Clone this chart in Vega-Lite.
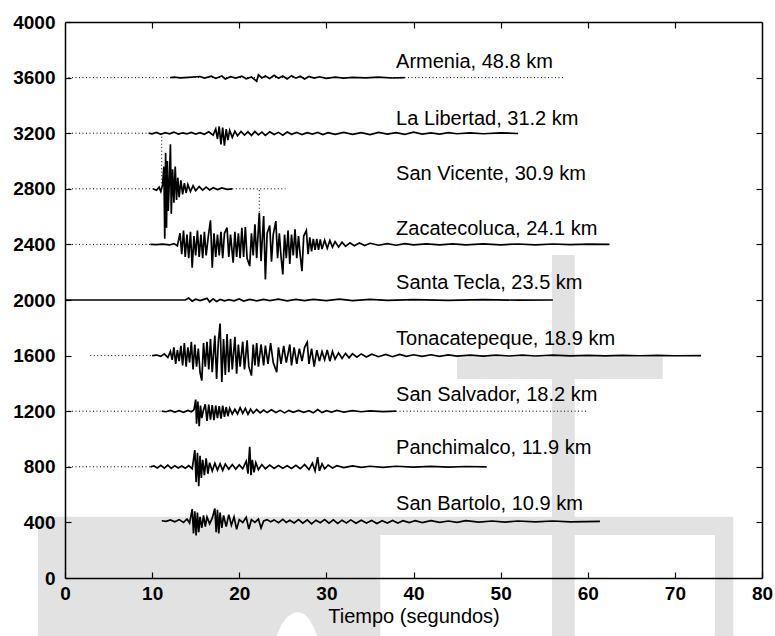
{
  "$schema": "https://vega.github.io/schema/vega-lite/v6.json",
  "width": 697,
  "height": 556,
  "autosize": {"type": "none"},
  "padding": {"left": 65, "top": 22, "right": 13, "bottom": 58},
  "background": "white",
  "config": {"view": {"stroke": null}},
  "datasets": {
    "wm": [
      {"x": -3.1, "x2": 76.7, "y": 309, "y2": 440},
      {"x": -3.1, "x2": 36.2, "y": -430, "y2": 309},
      {"x": 55.9, "x2": 58.5, "y": -430, "y2": 2323},
      {"x": 74.6, "x2": 76.7, "y": -430, "y2": 309},
      {"x": 45.0, "x2": 68.6, "y": 1431, "y2": 1589}
    ],
    "arch": [
      {"x": 24.2, "y": -430, "y0": -430},
      {"x": 24.9, "y": -330, "y0": -430},
      {"x": 25.6, "y": -275, "y0": -430},
      {"x": 26.3, "y": -250, "y0": -430},
      {"x": 26.8, "y": -246, "y0": -430},
      {"x": 27.4, "y": -258, "y0": -430},
      {"x": 28.0, "y": -295, "y0": -430},
      {"x": 28.6, "y": -360, "y0": -430},
      {"x": 29.0, "y": -430, "y0": -430}
    ],
    "dots": [
      {"x": 0, "x2": 57.4, "y": 3600, "y2": 3600},
      {"x": 0, "x2": 9.6, "y": 3200, "y2": 3200},
      {"x": 0, "x2": 10.1, "y": 2800, "y2": 2800},
      {"x": 19.2, "x2": 25.3, "y": 2800, "y2": 2800},
      {"x": 0, "x2": 9.8, "y": 2400, "y2": 2400},
      {"x": 2.9, "x2": 10, "y": 1600, "y2": 1600},
      {"x": 0, "x2": 11.1, "y": 1200, "y2": 1200},
      {"x": 38, "x2": 59.9, "y": 1200, "y2": 1200},
      {"x": 0, "x2": 9.8, "y": 800, "y2": 800},
      {"x": 11.1, "x2": 11.1, "y": 3200, "y2": 2820},
      {"x": 22.3, "x2": 22.3, "y": 2790, "y2": 2480}
    ],
    "labels": [
      {"x": 38, "y": 3712, "label": "Armenia, 48.8 km"},
      {"x": 38, "y": 3305, "label": "La Libertad, 31.2 km"},
      {"x": 38, "y": 2910, "label": "San Vicente, 30.9 km"},
      {"x": 38, "y": 2514, "label": "Zacatecoluca, 24.1 km"},
      {"x": 38, "y": 2119, "label": "Santa Tecla, 23.5 km"},
      {"x": 38, "y": 1723, "label": "Tonacatepeque, 18.9 km"},
      {"x": 38, "y": 1316, "label": "San Salvador, 18.2 km"},
      {"x": 38, "y": 933, "label": "Panchimalco, 11.9 km"},
      {"x": 38, "y": 532, "label": "San Bartolo, 10.9 km"}
    ],
    "traces": [
      {"s":"Armenia","t":12.1,"v":3600},{"s":"Armenia","t":12.6,"v":3604},{"s":"Armenia","t":13.2,"v":3598},{"s":"Armenia","t":14.2,"v":3602},{"s":"Armenia","t":15.5,"v":3608},{"s":"Armenia","t":16.0,"v":3596},{"s":"Armenia","t":16.8,"v":3610},{"s":"Armenia","t":17.3,"v":3594},{"s":"Armenia","t":18.0,"v":3612},{"s":"Armenia","t":18.4,"v":3590},{"s":"Armenia","t":19.0,"v":3606},{"s":"Armenia","t":19.6,"v":3596},{"s":"Armenia","t":20.3,"v":3610},{"s":"Armenia","t":20.8,"v":3592},{"s":"Armenia","t":21.4,"v":3604},{"s":"Armenia","t":22.0,"v":3574},{"s":"Armenia","t":22.2,"v":3620},{"s":"Armenia","t":22.6,"v":3598},{"s":"Armenia","t":23.0,"v":3612},{"s":"Armenia","t":23.5,"v":3594},{"s":"Armenia","t":24.0,"v":3616},{"s":"Armenia","t":24.5,"v":3596},{"s":"Armenia","t":25.0,"v":3612},{"s":"Armenia","t":25.5,"v":3590},{"s":"Armenia","t":26.0,"v":3614},{"s":"Armenia","t":26.5,"v":3596},{"s":"Armenia","t":27.0,"v":3610},{"s":"Armenia","t":27.5,"v":3590},{"s":"Armenia","t":28.0,"v":3608},{"s":"Armenia","t":28.6,"v":3596},{"s":"Armenia","t":29.2,"v":3606},{"s":"Armenia","t":30.0,"v":3594},{"s":"Armenia","t":31.0,"v":3604},{"s":"Armenia","t":32.0,"v":3596},{"s":"Armenia","t":33.0,"v":3602},{"s":"Armenia","t":34.5,"v":3598},{"s":"Armenia","t":36.0,"v":3604},{"s":"Armenia","t":37.5,"v":3597},{"s":"Armenia","t":39.0,"v":3600},
      {"s":"LaLibertad","t":9.6,"v":3200},{"s":"LaLibertad","t":10.0,"v":3196},{"s":"LaLibertad","t":10.5,"v":3206},{"s":"LaLibertad","t":11.0,"v":3192},{"s":"LaLibertad","t":11.5,"v":3204},{"s":"LaLibertad","t":12.0,"v":3196},{"s":"LaLibertad","t":12.5,"v":3208},{"s":"LaLibertad","t":13.0,"v":3194},{"s":"LaLibertad","t":13.5,"v":3202},{"s":"LaLibertad","t":14.0,"v":3196},{"s":"LaLibertad","t":14.5,"v":3206},{"s":"LaLibertad","t":15.0,"v":3194},{"s":"LaLibertad","t":15.5,"v":3204},{"s":"LaLibertad","t":16.0,"v":3192},{"s":"LaLibertad","t":16.5,"v":3210},{"s":"LaLibertad","t":17.0,"v":3186},{"s":"LaLibertad","t":17.3,"v":3230},{"s":"LaLibertad","t":17.5,"v":3160},{"s":"LaLibertad","t":17.7,"v":3250},{"s":"LaLibertad","t":17.9,"v":3120},{"s":"LaLibertad","t":18.1,"v":3240},{"s":"LaLibertad","t":18.3,"v":3110},{"s":"LaLibertad","t":18.5,"v":3230},{"s":"LaLibertad","t":18.7,"v":3150},{"s":"LaLibertad","t":18.9,"v":3220},{"s":"LaLibertad","t":19.2,"v":3170},{"s":"LaLibertad","t":19.5,"v":3214},{"s":"LaLibertad","t":19.8,"v":3182},{"s":"LaLibertad","t":20.2,"v":3212},{"s":"LaLibertad","t":20.6,"v":3186},{"s":"LaLibertad","t":21.0,"v":3210},{"s":"LaLibertad","t":21.4,"v":3184},{"s":"LaLibertad","t":21.8,"v":3212},{"s":"LaLibertad","t":22.2,"v":3188},{"s":"LaLibertad","t":22.6,"v":3208},{"s":"LaLibertad","t":23.0,"v":3184},{"s":"LaLibertad","t":23.5,"v":3210},{"s":"LaLibertad","t":24.0,"v":3190},{"s":"LaLibertad","t":24.5,"v":3206},{"s":"LaLibertad","t":25.0,"v":3186},{"s":"LaLibertad","t":25.5,"v":3208},{"s":"LaLibertad","t":26.0,"v":3192},{"s":"LaLibertad","t":26.6,"v":3206},{"s":"LaLibertad","t":27.2,"v":3190},{"s":"LaLibertad","t":27.8,"v":3204},{"s":"LaLibertad","t":28.4,"v":3194},{"s":"LaLibertad","t":29.0,"v":3206},{"s":"LaLibertad","t":29.6,"v":3190},{"s":"LaLibertad","t":30.2,"v":3204},{"s":"LaLibertad","t":31.0,"v":3192},{"s":"LaLibertad","t":32.0,"v":3206},{"s":"LaLibertad","t":33.0,"v":3192},{"s":"LaLibertad","t":34.0,"v":3204},{"s":"LaLibertad","t":35.0,"v":3190},{"s":"LaLibertad","t":36.0,"v":3206},{"s":"LaLibertad","t":37.0,"v":3194},{"s":"LaLibertad","t":38.0,"v":3204},{"s":"LaLibertad","t":39.0,"v":3192},{"s":"LaLibertad","t":40.0,"v":3208},{"s":"LaLibertad","t":41.0,"v":3194},{"s":"LaLibertad","t":42.0,"v":3202},{"s":"LaLibertad","t":43.0,"v":3194},{"s":"LaLibertad","t":44.0,"v":3204},{"s":"LaLibertad","t":45.0,"v":3196},{"s":"LaLibertad","t":46.5,"v":3202},{"s":"LaLibertad","t":48.0,"v":3196},{"s":"LaLibertad","t":50.0,"v":3202},{"s":"LaLibertad","t":52.0,"v":3198},
      {"s":"SanVicente","t":10.1,"v":2800},{"s":"SanVicente","t":10.5,"v":2790},{"s":"SanVicente","t":10.8,"v":2812},{"s":"SanVicente","t":11.0,"v":2780},{"s":"SanVicente","t":11.2,"v":2830},{"s":"SanVicente","t":11.35,"v":2960},{"s":"SanVicente","t":11.45,"v":2440},{"s":"SanVicente","t":11.55,"v":3060},{"s":"SanVicente","t":11.65,"v":2520},{"s":"SanVicente","t":11.75,"v":3000},{"s":"SanVicente","t":11.85,"v":2640},{"s":"SanVicente","t":12.0,"v":2900},{"s":"SanVicente","t":12.1,"v":3120},{"s":"SanVicente","t":12.2,"v":2620},{"s":"SanVicente","t":12.35,"v":2940},{"s":"SanVicente","t":12.5,"v":2700},{"s":"SanVicente","t":12.65,"v":2960},{"s":"SanVicente","t":12.8,"v":2720},{"s":"SanVicente","t":12.95,"v":2880},{"s":"SanVicente","t":13.1,"v":2740},{"s":"SanVicente","t":13.3,"v":2860},{"s":"SanVicente","t":13.5,"v":2760},{"s":"SanVicente","t":13.7,"v":2840},{"s":"SanVicente","t":13.9,"v":2770},{"s":"SanVicente","t":14.1,"v":2830},{"s":"SanVicente","t":14.4,"v":2780},{"s":"SanVicente","t":14.7,"v":2822},{"s":"SanVicente","t":15.0,"v":2786},{"s":"SanVicente","t":15.4,"v":2816},{"s":"SanVicente","t":15.8,"v":2790},{"s":"SanVicente","t":16.2,"v":2812},{"s":"SanVicente","t":16.6,"v":2792},{"s":"SanVicente","t":17.0,"v":2808},{"s":"SanVicente","t":17.5,"v":2794},{"s":"SanVicente","t":18.0,"v":2806},{"s":"SanVicente","t":18.6,"v":2796},{"s":"SanVicente","t":19.2,"v":2800},
      {"s":"Zacatecoluca","t":9.8,"v":2400},{"s":"Zacatecoluca","t":10.5,"v":2398},{"s":"Zacatecoluca","t":11.2,"v":2402},{"s":"Zacatecoluca","t":12.0,"v":2396},{"s":"Zacatecoluca","t":12.5,"v":2406},{"s":"Zacatecoluca","t":12.9,"v":2390},{"s":"Zacatecoluca","t":13.2,"v":2480},{"s":"Zacatecoluca","t":13.4,"v":2330},{"s":"Zacatecoluca","t":13.6,"v":2500},{"s":"Zacatecoluca","t":13.8,"v":2310},{"s":"Zacatecoluca","t":14.0,"v":2470},{"s":"Zacatecoluca","t":14.2,"v":2300},{"s":"Zacatecoluca","t":14.4,"v":2490},{"s":"Zacatecoluca","t":14.6,"v":2232},{"s":"Zacatecoluca","t":14.8,"v":2460},{"s":"Zacatecoluca","t":15.0,"v":2320},{"s":"Zacatecoluca","t":15.2,"v":2500},{"s":"Zacatecoluca","t":15.4,"v":2310},{"s":"Zacatecoluca","t":15.6,"v":2470},{"s":"Zacatecoluca","t":15.8,"v":2300},{"s":"Zacatecoluca","t":16.0,"v":2490},{"s":"Zacatecoluca","t":16.2,"v":2320},{"s":"Zacatecoluca","t":16.45,"v":2460},{"s":"Zacatecoluca","t":16.7,"v":2573},{"s":"Zacatecoluca","t":16.9,"v":2232},{"s":"Zacatecoluca","t":17.1,"v":2480},{"s":"Zacatecoluca","t":17.3,"v":2310},{"s":"Zacatecoluca","t":17.5,"v":2470},{"s":"Zacatecoluca","t":17.7,"v":2320},{"s":"Zacatecoluca","t":17.9,"v":2490},{"s":"Zacatecoluca","t":18.1,"v":2300},{"s":"Zacatecoluca","t":18.3,"v":2480},{"s":"Zacatecoluca","t":18.6,"v":2520},{"s":"Zacatecoluca","t":18.8,"v":2310},{"s":"Zacatecoluca","t":19.0,"v":2470},{"s":"Zacatecoluca","t":19.3,"v":2268},{"s":"Zacatecoluca","t":19.5,"v":2490},{"s":"Zacatecoluca","t":19.7,"v":2310},{"s":"Zacatecoluca","t":19.9,"v":2480},{"s":"Zacatecoluca","t":20.1,"v":2300},{"s":"Zacatecoluca","t":20.3,"v":2520},{"s":"Zacatecoluca","t":20.5,"v":2310},{"s":"Zacatecoluca","t":20.7,"v":2525},{"s":"Zacatecoluca","t":20.9,"v":2300},{"s":"Zacatecoluca","t":21.2,"v":2244},{"s":"Zacatecoluca","t":21.4,"v":2480},{"s":"Zacatecoluca","t":21.6,"v":2320},{"s":"Zacatecoluca","t":21.8,"v":2544},{"s":"Zacatecoluca","t":22.0,"v":2300},{"s":"Zacatecoluca","t":22.3,"v":2628},{"s":"Zacatecoluca","t":22.5,"v":2280},{"s":"Zacatecoluca","t":22.8,"v":2604},{"s":"Zacatecoluca","t":23.0,"v":2148},{"s":"Zacatecoluca","t":23.2,"v":2480},{"s":"Zacatecoluca","t":23.5,"v":2535},{"s":"Zacatecoluca","t":23.7,"v":2275},{"s":"Zacatecoluca","t":23.9,"v":2470},{"s":"Zacatecoluca","t":24.2,"v":2568},{"s":"Zacatecoluca","t":24.4,"v":2300},{"s":"Zacatecoluca","t":24.6,"v":2480},{"s":"Zacatecoluca","t":24.8,"v":2310},{"s":"Zacatecoluca","t":25.0,"v":2184},{"s":"Zacatecoluca","t":25.2,"v":2470},{"s":"Zacatecoluca","t":25.4,"v":2300},{"s":"Zacatecoluca","t":25.6,"v":2500},{"s":"Zacatecoluca","t":25.8,"v":2260},{"s":"Zacatecoluca","t":26.0,"v":2470},{"s":"Zacatecoluca","t":26.2,"v":2320},{"s":"Zacatecoluca","t":26.4,"v":2508},{"s":"Zacatecoluca","t":26.6,"v":2300},{"s":"Zacatecoluca","t":26.8,"v":2460},{"s":"Zacatecoluca","t":27.0,"v":2320},{"s":"Zacatecoluca","t":27.2,"v":2208},{"s":"Zacatecoluca","t":27.4,"v":2460},{"s":"Zacatecoluca","t":27.7,"v":2500},{"s":"Zacatecoluca","t":27.9,"v":2330},{"s":"Zacatecoluca","t":28.1,"v":2450},{"s":"Zacatecoluca","t":28.3,"v":2350},{"s":"Zacatecoluca","t":28.5,"v":2440},{"s":"Zacatecoluca","t":28.7,"v":2360},{"s":"Zacatecoluca","t":28.9,"v":2440},{"s":"Zacatecoluca","t":29.1,"v":2360},{"s":"Zacatecoluca","t":29.3,"v":2436},{"s":"Zacatecoluca","t":29.5,"v":2366},{"s":"Zacatecoluca","t":29.8,"v":2430},{"s":"Zacatecoluca","t":30.1,"v":2372},{"s":"Zacatecoluca","t":30.4,"v":2428},{"s":"Zacatecoluca","t":30.7,"v":2380},{"s":"Zacatecoluca","t":31.0,"v":2420},{"s":"Zacatecoluca","t":31.4,"v":2382},{"s":"Zacatecoluca","t":31.8,"v":2416},{"s":"Zacatecoluca","t":32.2,"v":2386},{"s":"Zacatecoluca","t":32.7,"v":2412},{"s":"Zacatecoluca","t":33.2,"v":2390},{"s":"Zacatecoluca","t":33.8,"v":2410},{"s":"Zacatecoluca","t":34.4,"v":2392},{"s":"Zacatecoluca","t":35.0,"v":2408},{"s":"Zacatecoluca","t":36.0,"v":2394},{"s":"Zacatecoluca","t":37.0,"v":2406},{"s":"Zacatecoluca","t":38.0,"v":2394},{"s":"Zacatecoluca","t":39.0,"v":2406},{"s":"Zacatecoluca","t":40.0,"v":2396},{"s":"Zacatecoluca","t":41.5,"v":2404},{"s":"Zacatecoluca","t":43.0,"v":2396},{"s":"Zacatecoluca","t":44.5,"v":2404},{"s":"Zacatecoluca","t":46.0,"v":2396},{"s":"Zacatecoluca","t":48.0,"v":2404},{"s":"Zacatecoluca","t":50.0,"v":2397},{"s":"Zacatecoluca","t":52.0,"v":2403},{"s":"Zacatecoluca","t":54.0,"v":2397},{"s":"Zacatecoluca","t":56.0,"v":2403},{"s":"Zacatecoluca","t":58.0,"v":2398},{"s":"Zacatecoluca","t":60.0,"v":2402},{"s":"Zacatecoluca","t":62.5,"v":2400},
      {"s":"SantaTecla","t":0,"v":2000},{"s":"SantaTecla","t":13.8,"v":2000},{"s":"SantaTecla","t":14.2,"v":2014},{"s":"SantaTecla","t":14.6,"v":1992},{"s":"SantaTecla","t":15.0,"v":2006},{"s":"SantaTecla","t":15.5,"v":1996},{"s":"SantaTecla","t":16.3,"v":2012},{"s":"SantaTecla","t":16.6,"v":1986},{"s":"SantaTecla","t":17.0,"v":2008},{"s":"SantaTecla","t":17.4,"v":1990},{"s":"SantaTecla","t":17.8,"v":2004},{"s":"SantaTecla","t":18.3,"v":1994},{"s":"SantaTecla","t":18.8,"v":2002},{"s":"SantaTecla","t":19.4,"v":1994},{"s":"SantaTecla","t":20.0,"v":2008},{"s":"SantaTecla","t":20.5,"v":1992},{"s":"SantaTecla","t":21.2,"v":2004},{"s":"SantaTecla","t":22.0,"v":1994},{"s":"SantaTecla","t":22.8,"v":2004},{"s":"SantaTecla","t":23.5,"v":1996},{"s":"SantaTecla","t":24.5,"v":2006},{"s":"SantaTecla","t":25.5,"v":1994},{"s":"SantaTecla","t":26.5,"v":2004},{"s":"SantaTecla","t":27.5,"v":1996},{"s":"SantaTecla","t":28.5,"v":2004},{"s":"SantaTecla","t":30.0,"v":1996},{"s":"SantaTecla","t":31.5,"v":2006},{"s":"SantaTecla","t":33.0,"v":1996},{"s":"SantaTecla","t":35.0,"v":2004},{"s":"SantaTecla","t":37.0,"v":1998},{"s":"SantaTecla","t":40.0,"v":2002},{"s":"SantaTecla","t":44.0,"v":1998},{"s":"SantaTecla","t":48.0,"v":2002},{"s":"SantaTecla","t":52.0,"v":1999},{"s":"SantaTecla","t":56.0,"v":2000},
      {"s":"Tonacatepeque","t":10.0,"v":1600},{"s":"Tonacatepeque","t":10.5,"v":1604},{"s":"Tonacatepeque","t":11.0,"v":1594},{"s":"Tonacatepeque","t":11.4,"v":1612},{"s":"Tonacatepeque","t":11.8,"v":1586},{"s":"Tonacatepeque","t":12.1,"v":1630},{"s":"Tonacatepeque","t":12.3,"v":1570},{"s":"Tonacatepeque","t":12.5,"v":1660},{"s":"Tonacatepeque","t":12.7,"v":1540},{"s":"Tonacatepeque","t":12.9,"v":1640},{"s":"Tonacatepeque","t":13.1,"v":1560},{"s":"Tonacatepeque","t":13.3,"v":1670},{"s":"Tonacatepeque","t":13.5,"v":1530},{"s":"Tonacatepeque","t":13.7,"v":1690},{"s":"Tonacatepeque","t":13.9,"v":1520},{"s":"Tonacatepeque","t":14.1,"v":1660},{"s":"Tonacatepeque","t":14.3,"v":1550},{"s":"Tonacatepeque","t":14.5,"v":1700},{"s":"Tonacatepeque","t":14.7,"v":1500},{"s":"Tonacatepeque","t":14.9,"v":1680},{"s":"Tonacatepeque","t":15.1,"v":1520},{"s":"Tonacatepeque","t":15.3,"v":1650},{"s":"Tonacatepeque","t":15.5,"v":1480},{"s":"Tonacatepeque","t":15.7,"v":1420},{"s":"Tonacatepeque","t":15.9,"v":1690},{"s":"Tonacatepeque","t":16.1,"v":1520},{"s":"Tonacatepeque","t":16.3,"v":1700},{"s":"Tonacatepeque","t":16.5,"v":1500},{"s":"Tonacatepeque","t":16.7,"v":1720},{"s":"Tonacatepeque","t":16.9,"v":1480},{"s":"Tonacatepeque","t":17.2,"v":1744},{"s":"Tonacatepeque","t":17.4,"v":1432},{"s":"Tonacatepeque","t":17.6,"v":1700},{"s":"Tonacatepeque","t":17.8,"v":1830},{"s":"Tonacatepeque","t":18.0,"v":1410},{"s":"Tonacatepeque","t":18.2,"v":1720},{"s":"Tonacatepeque","t":18.4,"v":1460},{"s":"Tonacatepeque","t":18.6,"v":1756},{"s":"Tonacatepeque","t":18.8,"v":1480},{"s":"Tonacatepeque","t":19.0,"v":1720},{"s":"Tonacatepeque","t":19.2,"v":1500},{"s":"Tonacatepeque","t":19.5,"v":1736},{"s":"Tonacatepeque","t":19.7,"v":1470},{"s":"Tonacatepeque","t":19.9,"v":1680},{"s":"Tonacatepeque","t":20.1,"v":1520},{"s":"Tonacatepeque","t":20.4,"v":1700},{"s":"Tonacatepeque","t":20.6,"v":1500},{"s":"Tonacatepeque","t":20.9,"v":1710},{"s":"Tonacatepeque","t":21.1,"v":1520},{"s":"Tonacatepeque","t":21.4,"v":1456},{"s":"Tonacatepeque","t":21.6,"v":1680},{"s":"Tonacatepeque","t":21.8,"v":1530},{"s":"Tonacatepeque","t":22.0,"v":1690},{"s":"Tonacatepeque","t":22.2,"v":1520},{"s":"Tonacatepeque","t":22.5,"v":1680},{"s":"Tonacatepeque","t":22.8,"v":1530},{"s":"Tonacatepeque","t":23.0,"v":1672},{"s":"Tonacatepeque","t":23.3,"v":1540},{"s":"Tonacatepeque","t":23.6,"v":1690},{"s":"Tonacatepeque","t":23.9,"v":1550},{"s":"Tonacatepeque","t":24.3,"v":1480},{"s":"Tonacatepeque","t":24.5,"v":1660},{"s":"Tonacatepeque","t":24.8,"v":1540},{"s":"Tonacatepeque","t":25.1,"v":1670},{"s":"Tonacatepeque","t":25.4,"v":1550},{"s":"Tonacatepeque","t":25.8,"v":1680},{"s":"Tonacatepeque","t":26.0,"v":1530},{"s":"Tonacatepeque","t":26.3,"v":1660},{"s":"Tonacatepeque","t":26.6,"v":1540},{"s":"Tonacatepeque","t":26.9,"v":1650},{"s":"Tonacatepeque","t":27.2,"v":1560},{"s":"Tonacatepeque","t":27.5,"v":1660},{"s":"Tonacatepeque","t":27.8,"v":1696},{"s":"Tonacatepeque","t":28.0,"v":1540},{"s":"Tonacatepeque","t":28.3,"v":1650},{"s":"Tonacatepeque","t":28.6,"v":1520},{"s":"Tonacatepeque","t":28.9,"v":1640},{"s":"Tonacatepeque","t":29.2,"v":1560},{"s":"Tonacatepeque","t":29.5,"v":1630},{"s":"Tonacatepeque","t":29.8,"v":1570},{"s":"Tonacatepeque","t":30.1,"v":1640},{"s":"Tonacatepeque","t":30.4,"v":1560},{"s":"Tonacatepeque","t":30.7,"v":1630},{"s":"Tonacatepeque","t":31.0,"v":1574},{"s":"Tonacatepeque","t":31.4,"v":1620},{"s":"Tonacatepeque","t":31.8,"v":1580},{"s":"Tonacatepeque","t":32.2,"v":1616},{"s":"Tonacatepeque","t":32.6,"v":1584},{"s":"Tonacatepeque","t":33.0,"v":1614},{"s":"Tonacatepeque","t":33.5,"v":1588},{"s":"Tonacatepeque","t":34.0,"v":1612},{"s":"Tonacatepeque","t":34.6,"v":1590},{"s":"Tonacatepeque","t":35.2,"v":1610},{"s":"Tonacatepeque","t":36.0,"v":1592},{"s":"Tonacatepeque","t":36.8,"v":1608},{"s":"Tonacatepeque","t":37.6,"v":1592},{"s":"Tonacatepeque","t":38.4,"v":1608},{"s":"Tonacatepeque","t":39.2,"v":1594},{"s":"Tonacatepeque","t":40.0,"v":1606},{"s":"Tonacatepeque","t":41.0,"v":1594},{"s":"Tonacatepeque","t":42.0,"v":1606},{"s":"Tonacatepeque","t":43.0,"v":1595},{"s":"Tonacatepeque","t":44.0,"v":1605},{"s":"Tonacatepeque","t":45.0,"v":1596},{"s":"Tonacatepeque","t":46.5,"v":1604},{"s":"Tonacatepeque","t":48.0,"v":1596},{"s":"Tonacatepeque","t":49.5,"v":1604},{"s":"Tonacatepeque","t":51.0,"v":1597},{"s":"Tonacatepeque","t":52.5,"v":1603},{"s":"Tonacatepeque","t":54.0,"v":1597},{"s":"Tonacatepeque","t":56.0,"v":1603},{"s":"Tonacatepeque","t":58.0,"v":1598},{"s":"Tonacatepeque","t":60.0,"v":1602},{"s":"Tonacatepeque","t":62.0,"v":1598},{"s":"Tonacatepeque","t":64.0,"v":1602},{"s":"Tonacatepeque","t":66.0,"v":1599},{"s":"Tonacatepeque","t":68.0,"v":1601},{"s":"Tonacatepeque","t":70.0,"v":1599},{"s":"Tonacatepeque","t":73.0,"v":1600},
      {"s":"SanSalvador","t":11.1,"v":1200},{"s":"SanSalvador","t":11.6,"v":1196},{"s":"SanSalvador","t":12.1,"v":1206},{"s":"SanSalvador","t":12.6,"v":1194},{"s":"SanSalvador","t":13.1,"v":1204},{"s":"SanSalvador","t":13.6,"v":1192},{"s":"SanSalvador","t":14.1,"v":1206},{"s":"SanSalvador","t":14.5,"v":1196},{"s":"SanSalvador","t":14.8,"v":1210},{"s":"SanSalvador","t":15.0,"v":1284},{"s":"SanSalvador","t":15.1,"v":1110},{"s":"SanSalvador","t":15.25,"v":1270},{"s":"SanSalvador","t":15.4,"v":1092},{"s":"SanSalvador","t":15.55,"v":1240},{"s":"SanSalvador","t":15.7,"v":1150},{"s":"SanSalvador","t":15.9,"v":1210},{"s":"SanSalvador","t":16.1,"v":1250},{"s":"SanSalvador","t":16.3,"v":1130},{"s":"SanSalvador","t":16.5,"v":1248},{"s":"SanSalvador","t":16.7,"v":1140},{"s":"SanSalvador","t":16.9,"v":1244},{"s":"SanSalvador","t":17.1,"v":1136},{"s":"SanSalvador","t":17.3,"v":1240},{"s":"SanSalvador","t":17.5,"v":1150},{"s":"SanSalvador","t":17.7,"v":1236},{"s":"SanSalvador","t":17.9,"v":1146},{"s":"SanSalvador","t":18.1,"v":1240},{"s":"SanSalvador","t":18.3,"v":1160},{"s":"SanSalvador","t":18.5,"v":1230},{"s":"SanSalvador","t":18.7,"v":1164},{"s":"SanSalvador","t":18.9,"v":1222},{"s":"SanSalvador","t":19.2,"v":1180},{"s":"SanSalvador","t":19.5,"v":1214},{"s":"SanSalvador","t":19.8,"v":1180},{"s":"SanSalvador","t":20.1,"v":1226},{"s":"SanSalvador","t":20.4,"v":1184},{"s":"SanSalvador","t":20.7,"v":1220},{"s":"SanSalvador","t":21.0,"v":1178},{"s":"SanSalvador","t":21.3,"v":1214},{"s":"SanSalvador","t":21.6,"v":1186},{"s":"SanSalvador","t":22.0,"v":1212},{"s":"SanSalvador","t":22.4,"v":1188},{"s":"SanSalvador","t":22.8,"v":1208},{"s":"SanSalvador","t":23.2,"v":1190},{"s":"SanSalvador","t":23.7,"v":1210},{"s":"SanSalvador","t":24.2,"v":1190},{"s":"SanSalvador","t":24.7,"v":1206},{"s":"SanSalvador","t":25.2,"v":1188},{"s":"SanSalvador","t":25.7,"v":1206},{"s":"SanSalvador","t":26.2,"v":1192},{"s":"SanSalvador","t":26.8,"v":1206},{"s":"SanSalvador","t":27.4,"v":1192},{"s":"SanSalvador","t":28.0,"v":1204},{"s":"SanSalvador","t":28.5,"v":1188},{"s":"SanSalvador","t":29.0,"v":1212},{"s":"SanSalvador","t":29.5,"v":1190},{"s":"SanSalvador","t":30.0,"v":1204},{"s":"SanSalvador","t":30.6,"v":1194},{"s":"SanSalvador","t":31.2,"v":1206},{"s":"SanSalvador","t":32.0,"v":1194},{"s":"SanSalvador","t":33.0,"v":1204},{"s":"SanSalvador","t":34.0,"v":1196},{"s":"SanSalvador","t":35.0,"v":1202},{"s":"SanSalvador","t":36.5,"v":1197},{"s":"SanSalvador","t":38.0,"v":1200},
      {"s":"Panchimalco","t":9.8,"v":800},{"s":"Panchimalco","t":10.2,"v":806},{"s":"Panchimalco","t":10.6,"v":792},{"s":"Panchimalco","t":11.0,"v":810},{"s":"Panchimalco","t":11.4,"v":790},{"s":"Panchimalco","t":11.8,"v":812},{"s":"Panchimalco","t":12.2,"v":788},{"s":"Panchimalco","t":12.6,"v":808},{"s":"Panchimalco","t":13.0,"v":792},{"s":"Panchimalco","t":13.4,"v":806},{"s":"Panchimalco","t":13.8,"v":790},{"s":"Panchimalco","t":14.2,"v":808},{"s":"Panchimalco","t":14.6,"v":786},{"s":"Panchimalco","t":14.9,"v":920},{"s":"Panchimalco","t":15.05,"v":690},{"s":"Panchimalco","t":15.2,"v":900},{"s":"Panchimalco","t":15.35,"v":660},{"s":"Panchimalco","t":15.5,"v":880},{"s":"Panchimalco","t":15.65,"v":720},{"s":"Panchimalco","t":15.8,"v":850},{"s":"Panchimalco","t":16.0,"v":740},{"s":"Panchimalco","t":16.2,"v":860},{"s":"Panchimalco","t":16.4,"v":750},{"s":"Panchimalco","t":16.6,"v":830},{"s":"Panchimalco","t":16.9,"v":770},{"s":"Panchimalco","t":17.2,"v":826},{"s":"Panchimalco","t":17.5,"v":776},{"s":"Panchimalco","t":17.8,"v":822},{"s":"Panchimalco","t":18.1,"v":774},{"s":"Panchimalco","t":18.4,"v":820},{"s":"Panchimalco","t":18.8,"v":782},{"s":"Panchimalco","t":19.2,"v":816},{"s":"Panchimalco","t":19.6,"v":784},{"s":"Panchimalco","t":20.0,"v":814},{"s":"Panchimalco","t":20.4,"v":786},{"s":"Panchimalco","t":20.8,"v":840},{"s":"Panchimalco","t":21.0,"v":750},{"s":"Panchimalco","t":21.2,"v":944},{"s":"Panchimalco","t":21.35,"v":740},{"s":"Panchimalco","t":21.5,"v":850},{"s":"Panchimalco","t":21.7,"v":760},{"s":"Panchimalco","t":21.9,"v":830},{"s":"Panchimalco","t":22.2,"v":780},{"s":"Panchimalco","t":22.6,"v":816},{"s":"Panchimalco","t":23.0,"v":786},{"s":"Panchimalco","t":23.5,"v":812},{"s":"Panchimalco","t":24.0,"v":788},{"s":"Panchimalco","t":24.5,"v":810},{"s":"Panchimalco","t":25.0,"v":790},{"s":"Panchimalco","t":25.5,"v":808},{"s":"Panchimalco","t":26.0,"v":788},{"s":"Panchimalco","t":26.5,"v":810},{"s":"Panchimalco","t":27.0,"v":786},{"s":"Panchimalco","t":27.5,"v":816},{"s":"Panchimalco","t":28.0,"v":780},{"s":"Panchimalco","t":28.4,"v":826},{"s":"Panchimalco","t":28.7,"v":770},{"s":"Panchimalco","t":29.0,"v":870},{"s":"Panchimalco","t":29.2,"v":770},{"s":"Panchimalco","t":29.5,"v":822},{"s":"Panchimalco","t":29.8,"v":786},{"s":"Panchimalco","t":30.2,"v":812},{"s":"Panchimalco","t":30.7,"v":792},{"s":"Panchimalco","t":31.2,"v":808},{"s":"Panchimalco","t":32.0,"v":794},{"s":"Panchimalco","t":33.0,"v":806},{"s":"Panchimalco","t":34.0,"v":796},{"s":"Panchimalco","t":35.0,"v":804},{"s":"Panchimalco","t":36.5,"v":796},{"s":"Panchimalco","t":38.0,"v":804},{"s":"Panchimalco","t":40.0,"v":797},{"s":"Panchimalco","t":42.0,"v":803},{"s":"Panchimalco","t":44.0,"v":798},{"s":"Panchimalco","t":46.0,"v":802},{"s":"Panchimalco","t":48.4,"v":800},
      {"s":"SanBartolo","t":11.1,"v":412},{"s":"SanBartolo","t":11.6,"v":408},{"s":"SanBartolo","t":12.1,"v":418},{"s":"SanBartolo","t":12.6,"v":404},{"s":"SanBartolo","t":13.1,"v":420},{"s":"SanBartolo","t":13.6,"v":400},{"s":"SanBartolo","t":14.0,"v":424},{"s":"SanBartolo","t":14.3,"v":396},{"s":"SanBartolo","t":14.6,"v":496},{"s":"SanBartolo","t":14.75,"v":320},{"s":"SanBartolo","t":14.9,"v":480},{"s":"SanBartolo","t":15.05,"v":306},{"s":"SanBartolo","t":15.2,"v":470},{"s":"SanBartolo","t":15.35,"v":330},{"s":"SanBartolo","t":15.5,"v":440},{"s":"SanBartolo","t":15.7,"v":360},{"s":"SanBartolo","t":15.9,"v":450},{"s":"SanBartolo","t":16.1,"v":370},{"s":"SanBartolo","t":16.3,"v":440},{"s":"SanBartolo","t":16.6,"v":390},{"s":"SanBartolo","t":16.9,"v":430},{"s":"SanBartolo","t":17.2,"v":500},{"s":"SanBartolo","t":17.35,"v":330},{"s":"SanBartolo","t":17.5,"v":490},{"s":"SanBartolo","t":17.65,"v":320},{"s":"SanBartolo","t":17.8,"v":470},{"s":"SanBartolo","t":18.0,"v":360},{"s":"SanBartolo","t":18.2,"v":450},{"s":"SanBartolo","t":18.5,"v":370},{"s":"SanBartolo","t":18.8,"v":456},{"s":"SanBartolo","t":19.1,"v":380},{"s":"SanBartolo","t":19.4,"v":440},{"s":"SanBartolo","t":19.7,"v":350},{"s":"SanBartolo","t":20.0,"v":420},{"s":"SanBartolo","t":20.4,"v":400},{"s":"SanBartolo","t":20.8,"v":436},{"s":"SanBartolo","t":21.1,"v":352},{"s":"SanBartolo","t":21.4,"v":420},{"s":"SanBartolo","t":21.8,"v":400},{"s":"SanBartolo","t":22.2,"v":424},{"s":"SanBartolo","t":22.5,"v":360},{"s":"SanBartolo","t":22.8,"v":410},{"s":"SanBartolo","t":23.2,"v":420},{"s":"SanBartolo","t":23.6,"v":404},{"s":"SanBartolo","t":24.0,"v":418},{"s":"SanBartolo","t":24.5,"v":398},{"s":"SanBartolo","t":25.0,"v":422},{"s":"SanBartolo","t":25.4,"v":400},{"s":"SanBartolo","t":25.8,"v":416},{"s":"SanBartolo","t":26.3,"v":396},{"s":"SanBartolo","t":26.8,"v":420},{"s":"SanBartolo","t":27.3,"v":394},{"s":"SanBartolo","t":27.8,"v":418},{"s":"SanBartolo","t":28.3,"v":390},{"s":"SanBartolo","t":28.8,"v":416},{"s":"SanBartolo","t":29.3,"v":398},{"s":"SanBartolo","t":29.8,"v":420},{"s":"SanBartolo","t":30.3,"v":394},{"s":"SanBartolo","t":30.8,"v":418},{"s":"SanBartolo","t":31.3,"v":392},{"s":"SanBartolo","t":31.8,"v":416},{"s":"SanBartolo","t":32.3,"v":396},{"s":"SanBartolo","t":32.8,"v":418},{"s":"SanBartolo","t":33.4,"v":394},{"s":"SanBartolo","t":34.0,"v":416},{"s":"SanBartolo","t":34.6,"v":396},{"s":"SanBartolo","t":35.2,"v":414},{"s":"SanBartolo","t":35.8,"v":392},{"s":"SanBartolo","t":36.4,"v":412},{"s":"SanBartolo","t":37.0,"v":396},{"s":"SanBartolo","t":37.6,"v":414},{"s":"SanBartolo","t":38.2,"v":396},{"s":"SanBartolo","t":38.8,"v":412},{"s":"SanBartolo","t":39.5,"v":398},{"s":"SanBartolo","t":40.2,"v":412},{"s":"SanBartolo","t":41.0,"v":398},{"s":"SanBartolo","t":42.0,"v":412},{"s":"SanBartolo","t":43.0,"v":400},{"s":"SanBartolo","t":44.0,"v":410},{"s":"SanBartolo","t":45.0,"v":400},{"s":"SanBartolo","t":46.0,"v":412},{"s":"SanBartolo","t":47.5,"v":402},{"s":"SanBartolo","t":49.0,"v":410},{"s":"SanBartolo","t":50.5,"v":402},{"s":"SanBartolo","t":52.0,"v":410},{"s":"SanBartolo","t":54.0,"v":404},{"s":"SanBartolo","t":56.0,"v":410},{"s":"SanBartolo","t":58.0,"v":404},{"s":"SanBartolo","t":61.4,"v":408}
    ]
  },
  "layer": [
    {
      "data": {"name": "wm"},
      "mark": {"type": "rect", "color": "#e2e2e2"},
      "encoding": {
        "x": {"field": "x", "type": "quantitative", "scale": {"domain": [0, 80], "nice": false, "zero": false},
          "axis": {"orient": "bottom", "values": [0,10,20,30,40,50,60,70,80], "format": "d", "title": "Tiempo (segundos)", "grid": false, "zindex": 1,
            "tickSize": -6, "tickColor": "black", "tickWidth": 1.2, "domainColor": "black", "domainWidth": 1.5,
            "labelFont": "Liberation Sans", "labelFontSize": 19, "labelFontWeight": "bold", "labelColor": "black", "labelPadding": 12, "labelFlush": false,
            "titleFont": "Liberation Sans", "titleFontSize": 20, "titleFontWeight": "normal", "titleColor": "black", "titlePadding": 3}},
        "x2": {"field": "x2"},
        "y": {"field": "y", "type": "quantitative", "scale": {"domain": [0, 4000], "nice": false, "zero": false},
          "axis": {"orient": "left", "values": [0,400,800,1200,1600,2000,2400,2800,3200,3600,4000], "format": "d", "title": null, "grid": false, "zindex": 1,
            "tickSize": -6, "tickColor": "black", "tickWidth": 1.2, "domainColor": "black", "domainWidth": 1.5,
            "labelFont": "Liberation Sans", "labelFontSize": 19, "labelFontWeight": "bold", "labelColor": "black", "labelPadding": 16, "labelOverlap": false, "labelFlush": false}},
        "y2": {"field": "y2"}
      }
    },
    {
      "data": {"name": "arch"},
      "mark": {"type": "area", "color": "white", "opacity": 1},
      "encoding": {
        "x": {"field": "x", "type": "quantitative", "axis": null},
        "y": {"field": "y", "type": "quantitative", "axis": null},
        "y2": {"field": "y0"}
      }
    },
    {
      "data": {"name": "dots"},
      "mark": {"type": "rule", "color": "black", "strokeWidth": 1, "strokeDash": [1, 2.5]},
      "encoding": {
        "x": {"field": "x", "type": "quantitative", "axis": null},
        "x2": {"field": "x2"},
        "y": {"field": "y", "type": "quantitative", "axis": null},
        "y2": {"field": "y2"}
      }
    },
    {
      "data": {"name": "traces"},
      "mark": {"type": "line", "color": "black", "strokeWidth": 1.7, "strokeJoin": "miter"},
      "encoding": {
        "x": {"field": "t", "type": "quantitative", "axis": null},
        "y": {"field": "v", "type": "quantitative", "axis": null},
        "detail": {"field": "s", "type": "nominal"}
      }
    },
    {
      "data": {"name": "labels"},
      "mark": {"type": "text", "align": "left", "baseline": "middle", "font": "Liberation Sans", "fontSize": 20, "color": "black"},
      "encoding": {
        "x": {"field": "x", "type": "quantitative",
          "axis": {"orient": "top", "values": [10,20,30,40,50,60,70], "labels": false, "title": null, "grid": false, "zindex": 1,
            "tickSize": -6, "tickColor": "black", "tickWidth": 1.2, "domainColor": "black", "domainWidth": 1.5}},
        "y": {"field": "y", "type": "quantitative",
          "axis": {"orient": "right", "values": [400,800,1200,1600,2000,2400,2800,3200,3600], "labels": false, "title": null, "grid": false, "zindex": 1,
            "tickSize": -6, "tickColor": "black", "tickWidth": 1.2, "domainColor": "black", "domainWidth": 1.5}},
        "text": {"field": "label", "type": "nominal"}
      }
    }
  ],
  "resolve": {"axis": {"x": "independent", "y": "independent"}}
}
